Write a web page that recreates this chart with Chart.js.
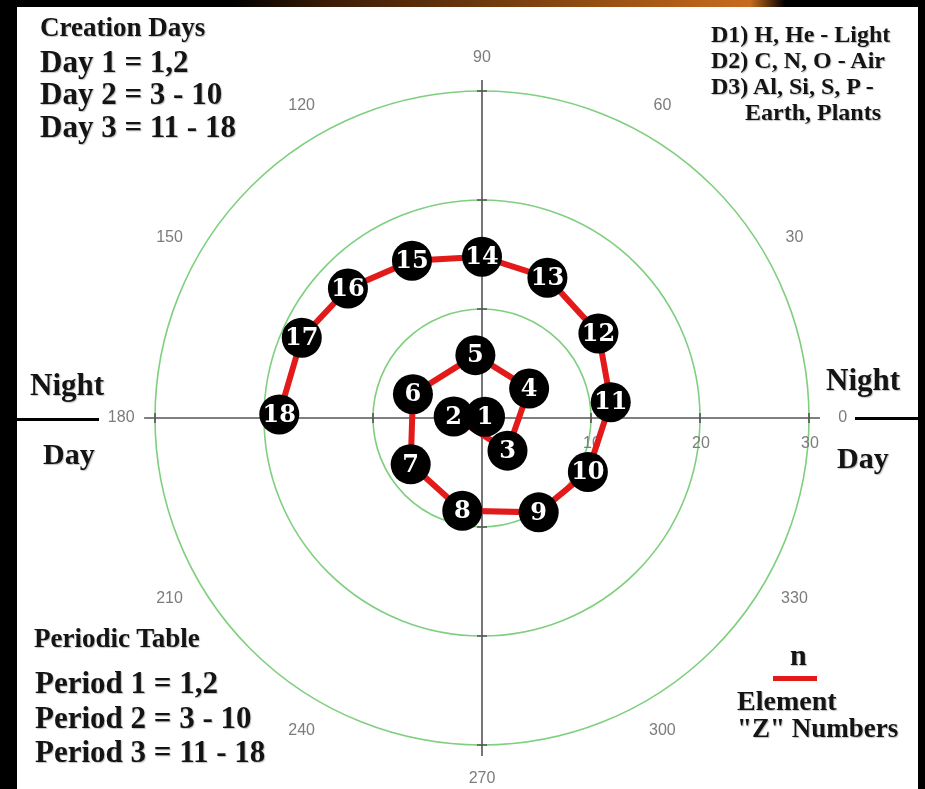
<!DOCTYPE html>
<html>
<head>
<meta charset="utf-8">
<script src="https://cdn.jsdelivr.net/npm/chart.js@4.4.1/dist/chart.umd.min.js"></script>
<style>
  html, body { margin: 0; padding: 0; background: #000; }
  #page { position: relative; width: 925px; height: 789px; overflow: hidden; background: #000; }
  #topband {
    position: absolute; left: 0; top: 0; width: 925px; height: 7px;
    background: linear-gradient(90deg, #000 0px, #000 230px, #3b1c06 330px, #7a400f 520px, #b8621a 700px, #c86c1e 750px, #000 785px, #000 925px);
  }
  #panel { position: absolute; left: 17px; top: 7px; width: 901px; height: 782px; background: #fff; }
  #chart { position: absolute; left: 0; top: 0; }
  .note {
    position: absolute; font-family: 'Liberation Serif', 'Times New Roman', serif; font-weight: bold;
    color: #141414; line-height: 1; white-space: nowrap; text-shadow: 1px 1px 1px rgba(0,0,0,0.25);
  }
  .rule { position: absolute; }
</style>
</head>
<body>
<div id="page">
  <div id="topband"></div>
  <div id="panel"></div>
  <canvas id="chart" width="925" height="789"></canvas>
</div>
<script>
// element Z numbers and their polar positions (radius in plot units, angle in degrees)
const zNumbers = ['1', '2', '3', '4', '5', '6', '7', '8', '9', '10', '11', '12', '13', '14', '15', '16', '17', '18'];
const radii = [0.3, 2.6, 3.8, 5.1, 5.8, 6.7, 7.8, 8.7, 10.1, 10.9, 11.9, 13.2, 14.2, 14.8, 15.8, 17.1, 18.1, 18.6];
const angles = [23, 177, 308, 32, 96, 161, 213, 258, 301, 333, 7, 36, 65, 90, 114, 136, 156, 179];

// grid rings and angle labels
const gridRadii = [10, 20, 30];
const angleTicks = [0, 30, 60, 90, 120, 150, 180, 210, 240, 270, 300, 330];
const axisExtent = 31;
const labelRadius = 33.1;

const points = radii.map((r, i) => {
  const t = angles[i] * Math.PI / 180;
  return { x: r * Math.cos(t), y: r * Math.sin(t) };
});

const polarGrid = {
  id: 'polarGrid',
  beforeDatasetsDraw(chart) {
    const { ctx, scales: { x, y } } = chart;
    const cx = x.getPixelForValue(0);
    const cy = y.getPixelForValue(0);
    const kx = x.getPixelForValue(1) - cx;
    const ky = cy - y.getPixelForValue(1);
    ctx.save();

    // green rings
    ctx.strokeStyle = '#7fcf7f';
    ctx.lineWidth = 1.6;
    gridRadii.forEach(r => {
      ctx.beginPath();
      ctx.ellipse(cx, cy, r * kx, r * ky, 0, 0, 2 * Math.PI);
      ctx.stroke();
    });

    // cross hair + little ticks where the rings cross it
    ctx.strokeStyle = '#555';
    ctx.lineWidth = 1.6;
    ctx.beginPath();
    ctx.moveTo(x.getPixelForValue(-axisExtent), cy);
    ctx.lineTo(x.getPixelForValue(axisExtent), cy);
    ctx.moveTo(cx, y.getPixelForValue(axisExtent));
    ctx.lineTo(cx, y.getPixelForValue(-axisExtent));
    gridRadii.forEach(r => {
      [r, -r].forEach(v => {
        const px = x.getPixelForValue(v);
        ctx.moveTo(px, cy - 5);
        ctx.lineTo(px, cy + 5);
        const py = y.getPixelForValue(v);
        ctx.moveTo(cx - 5, py);
        ctx.lineTo(cx + 5, py);
      });
    });
    ctx.stroke();

    ctx.fillStyle = '#7c7c7c';
    ctx.font = '16px "Liberation Sans Narrow", "Liberation Sans", sans-serif';
    ctx.textAlign = 'center';
    ctx.textBaseline = 'middle';
    angleTicks.forEach(a => {
      const t = a * Math.PI / 180;
      ctx.fillText(String(a), x.getPixelForValue(labelRadius * Math.cos(t)), y.getPixelForValue(labelRadius * Math.sin(t)));
    });
    ctx.textBaseline = 'alphabetic';
    gridRadii.forEach(r => ctx.fillText(String(r), x.getPixelForValue(r) + 1, cy + 30));
    ctx.restore();
  },
  afterDatasetsDraw(chart) {
    const ctx = chart.ctx;
    const meta = chart.getDatasetMeta(0);
    ctx.save();
    ctx.fillStyle = '#fff';
    ctx.font = 'bold 24px "DejaVu Serif", serif';
    ctx.textAlign = 'center';
    ctx.textBaseline = 'middle';
    meta.data.forEach((pt, i) => ctx.fillText(zNumbers[i], pt.x, pt.y + 1));
    ctx.restore();
  }
};

new Chart(document.getElementById('chart'), {
  type: 'scatter',
  plugins: [polarGrid],
  data: {
    datasets: [{
      data: points,
      showLine: true,
      tension: 0,
      borderColor: '#e31a1a',
      borderWidth: 6,
      pointRadius: 20,
      pointHoverRadius: 20,
      pointBackgroundColor: '#000',
      pointBorderColor: '#000',
      pointBorderWidth: 0,
      clip: false
    }]
  },
  options: {
    responsive: false,
    animation: false,
    events: [],
    layout: { padding: 0, autoPadding: false },
    plugins: { legend: { display: false }, tooltip: { enabled: false } },
    scales: {
      x: { type: 'linear', display: false, min: -482 / 10.9, max: 443 / 10.9 },
      y: { type: 'linear', display: false, min: -371 / 10.9, max: 418 / 10.9 }
    }
  }
});

// text notes: [text, left, baseline, font size]
const notes = [
  ['Creation Days', 40, 37, 27],
  ['Day 1 = 1,2', 40, 72, 31],
  ['Day 2 = 3 - 10', 40, 104, 31],
  ['Day 3 = 11 - 18', 40, 137, 31],
  ['D1) H, He - Light', 711, 42, 24],
  ['D2) C, N, O - Air', 711, 68, 24],
  ['D3) Al, Si, S, P -', 711, 94, 24],
  ['Earth, Plants', 745, 120, 24],
  ['Night', 30, 395, 31],
  ['Day', 43, 464, 30],
  ['Night', 826, 390, 31],
  ['Day', 837, 468, 30],
  ['Periodic Table', 34, 648, 27],
  ['Period 1 = 1,2', 35, 693, 31],
  ['Period 2 = 3 - 10', 35, 728, 31],
  ['Period 3 = 11 - 18', 35, 762, 31],
  ['n', 790, 665, 30],
  ['Element', 737, 710, 28],
  ['"Z" Numbers', 737, 738, 27]
];
const page = document.getElementById('page');
notes.forEach(([text, left, base, size]) => {
  const d = document.createElement('div');
  d.className = 'note';
  d.textContent = text;
  d.style.left = left + 'px';
  d.style.top = (base - 0.8375 * size) + 'px';
  d.style.fontSize = size + 'px';
  page.appendChild(d);
});

// black rules beside Night/Day and the red legend swatch
const rules = [
  [17, 418, 82, 3, '#000'],
  [855, 417, 70, 3, '#000'],
  [773, 676, 44, 5, '#e31a1a'],
  [918, 0, 7, 789, '#000']
];
rules.forEach(([l, t, w, h, c]) => {
  const d = document.createElement('div');
  d.className = 'rule';
  Object.assign(d.style, { left: l + 'px', top: t + 'px', width: w + 'px', height: h + 'px', background: c });
  page.appendChild(d);
});
</script>
</body>
</html>
